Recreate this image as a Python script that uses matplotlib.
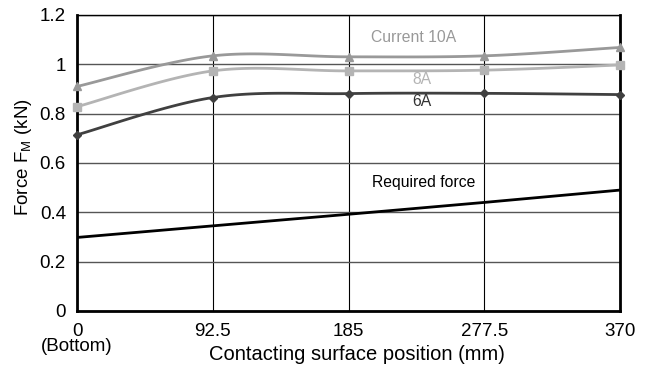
import numpy as np
import matplotlib
matplotlib.use("Agg")
import matplotlib.pyplot as plt

plt.rcParams["font.family"] = ["Liberation Sans", "DejaVu Sans"]

positions = [0, 92.5, 185, 277.5, 370]
tick_labels = ["0\n(Bottom)", "92.5", "185", "277.5", "370"]
force_10a = [0.91, 1.034, 1.030, 1.034, 1.068]
force_8a = [0.828, 0.973, 0.973, 0.976, 0.997]
force_6a = [0.714, 0.865, 0.881, 0.882, 0.877]
required = [0.298, 0.345, 0.392, 0.440, 0.490]


def smooth(xs, ys, n=30):
    # Catmull-Rom style smoothing, like a spreadsheet "smoothed line"
    xs = np.asarray(xs, float)
    ys = np.asarray(ys, float)
    px = np.concatenate([[xs[0]], xs, [xs[-1]]])
    py = np.concatenate([[ys[0]], ys, [ys[-1]]])
    outx, outy = [], []
    t = np.linspace(0, 1, n)
    for i in range(1, len(px) - 2):
        p0, p1, p2, p3 = [np.array([px[j], py[j]]) for j in (i - 1, i, i + 1, i + 2)]
        c1 = p1 + (p2 - p0) / 6
        c2 = p2 - (p3 - p1) / 6
        b = (np.outer((1 - t) ** 3, p1) + np.outer(3 * (1 - t) ** 2 * t, c1)
             + np.outer(3 * (1 - t) * t ** 2, c2) + np.outer(t ** 3, p2))
        outx.extend(b[:, 0])
        outy.extend(b[:, 1])
    return outx, outy


fig = plt.figure(figsize=(6.5, 3.72), dpi=100)
ax = fig.add_axes([0.1185, 0.164, 0.8355, 0.796])

series = [
    (force_10a, "#999999", "^", 6),
    (force_8a, "#b4b4b4", "s", 6),
    (force_6a, "#404040", "D", 4),
]
for ys, col, mk, ms in series:
    sx, sy = smooth(positions, ys)
    ax.plot(sx, sy, color=col, lw=2, zorder=3, clip_on=False)
    ax.plot(positions, ys, ls="none", marker=mk, ms=ms, color=col, zorder=4, clip_on=False)

ax.plot(positions, required, color="black", lw=2, zorder=3)

ax.text(229.6, 1.110, "Current 10A", color="#999999", fontsize=11.3, ha="center", va="center")
ax.text(234.8, 0.939, "8A", color="#b4b4b4", fontsize=11.3, ha="center", va="center")
ax.text(234.8, 0.848, "6A", color="#333333", fontsize=11.3, ha="center", va="center")
ax.text(236, 0.519, "Required force", color="black", fontsize=11.3, ha="center", va="center")

ax.set_xlim(0, 370)
ax.set_ylim(0, 1.2)
ax.set_xticks(positions)
ax.set_xticklabels(tick_labels, fontsize=13.5, va="top", linespacing=0.8)
ax.set_yticks([0, 0.2, 0.4, 0.6, 0.8, 1.0, 1.2])
ax.set_yticklabels(["0", "0.2", "0.4", "0.6", "0.8", "1", "1.2"], fontsize=13.5)
ax.tick_params(length=0)
ax.tick_params(axis="y", pad=8)
ax.tick_params(axis="x", pad=9)

ax.grid(axis="y", color="#555555", lw=1)
ax.grid(axis="x", color="black", lw=0.8)
ax.set_axisbelow(True)

for side in ["left", "bottom", "right"]:
    ax.spines[side].set_linewidth(2)
ax.spines["top"].set_linewidth(1)

ax.set_xlabel("Contacting surface position (mm)", fontsize=14.5, va="center")
ax.xaxis.set_label_coords(0.515, -0.146)
ax.set_ylabel("Force F$_\\mathregular{M}$ (kN)", fontsize=13.5, va="center")
ax.yaxis.set_label_coords(-0.0994, 0.52)

fig.savefig("out.png", dpi=100)
